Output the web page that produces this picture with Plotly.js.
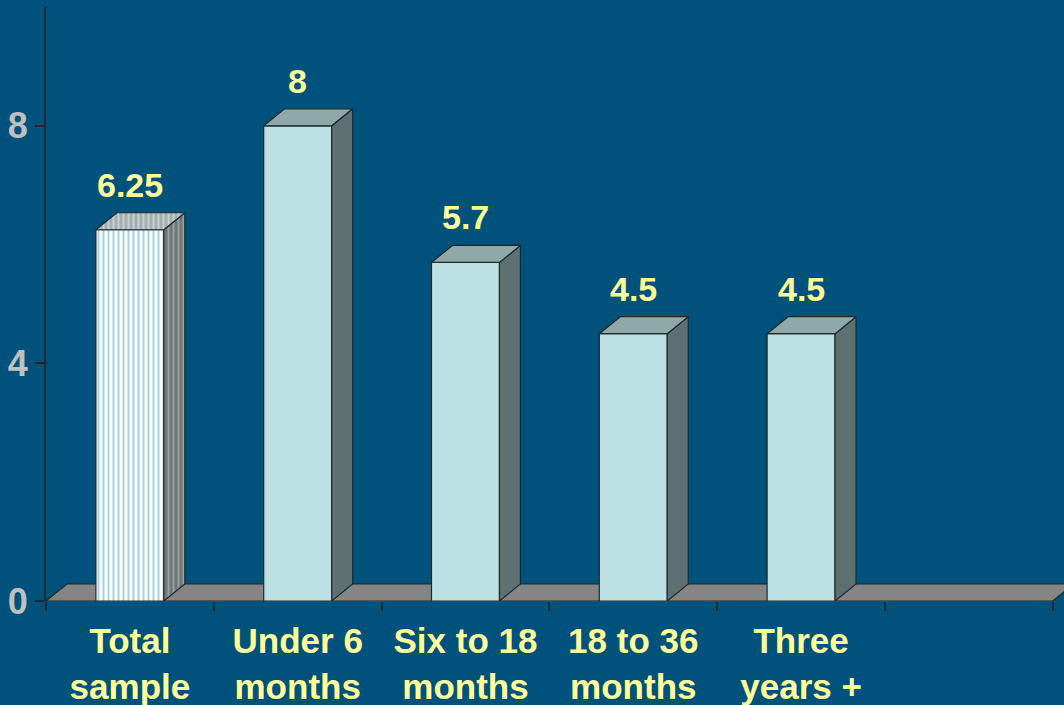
<!DOCTYPE html>
<html>
<head>
<meta charset="utf-8">
<script src="https://cdn.plot.ly/plotly-3.0.1.min.js"></script>
<style>
html,body{margin:0;padding:0;background:#00517b;}
#chart{width:1064px;height:705px;}
</style>
</head>
<body>
<div id="chart"></div>
<script>
// ---- data ----
var categories = ["Total<br>sample", "Under 6<br>months", "Six to 18<br>months", "18 to 36<br>months", "Three<br>years +", ""];
var values = [6.25, 8, 5.7, 4.5, 4.5];
var valueLabels = ["6.25", "8", "5.7", "4.5", "4.5"];
var yTicks = [0, 4, 8];

// ---- style ----
var BG = "#00517b";
var YELLOW = "#ffff99";
var OUTLINE = "#1c2a30";
var FRONT = "#bde0e4", SIDE = "#5e7070", TOP = "#8fa8a8";
var barW = 0.405;      // front face width, category units
var dX = 0.125;        // depth offset in x (category units)
var dY = 0.286;        // depth offset in y (value units)
var nCat = categories.length;

var idx = categories.map(function(_, i){ return i; });
var barIdx = values.map(function(_, i){ return i; });
var isStriped = values.map(function(_, i){ return i === 0; });

var traces = [];

// front faces: striped (total) bar
traces.push({
  type: "bar",
  x: barIdx.filter(function(i){ return isStriped[i]; }),
  y: values.filter(function(_, i){ return isStriped[i]; }),
  width: barW,
  marker: {
    color: "#ffffff",
    line: {color: OUTLINE, width: 1.2},
    pattern: {shape: "|", fgcolor: "#a6d4dc", bgcolor: "#ffffff", fgopacity: 1,
      size: 5, solidity: 0.4, fillmode: "replace"}
  },
  hoverinfo: "skip", showlegend: false
});
// front faces: plain bars
traces.push({
  type: "bar",
  x: barIdx.filter(function(i){ return !isStriped[i]; }),
  y: values.filter(function(_, i){ return !isStriped[i]; }),
  width: barW,
  marker: {color: FRONT, line: {color: OUTLINE, width: 1.2}},
  hoverinfo: "skip", showlegend: false
});

// side and top faces
values.forEach(function(v, i){
  var xr = i + barW / 2, xl = i - barW / 2;
  var striped = isStriped[i];
  var side = {
    type: "scatter", mode: "lines",
    x: [xr, xr + dX, xr + dX, xr, xr],
    y: [0, dY, v + dY, v, 0],
    fill: "toself",
    fillcolor: striped ? "#6e7676" : SIDE,
    line: {color: OUTLINE, width: 1.2},
    hoverinfo: "skip", showlegend: false
  };
  var top = {
    type: "scatter", mode: "lines",
    x: [xl, xr, xr + dX, xl + dX, xl],
    y: [v, v, v + dY, v + dY, v],
    fill: "toself",
    fillcolor: striped ? "#a4aeae" : TOP,
    line: {color: OUTLINE, width: 1.2},
    hoverinfo: "skip", showlegend: false
  };
  if (striped) {
    side.fillpattern = {shape: "|", fgcolor: "#9aa2a2", bgcolor: "#6e7676", fgopacity: 1, size: 5, solidity: 0.4, fillmode: "replace"};
    top.fillpattern = {shape: "|", fgcolor: "#c9d2d2", bgcolor: "#a4aeae", fgopacity: 1, size: 5, solidity: 0.4, fillmode: "replace"};
  }
  traces.push(side);
  traces.push(top);
});

// dummy trace to hold boundary-tick axis
traces.push({type: "scatter", mode: "markers", x: [0], y: [0], xaxis: "x2",
  marker: {opacity: 0}, hoverinfo: "skip", showlegend: false});

var xMin = -0.5, xMax = nCat - 0.5;
var xRange = [xMin, 5.567];

var annotations = values.map(function(v, i){
  return {
    x: i, y: v + dY, xref: "x", yref: "y",
    text: valueLabels[i], showarrow: false,
    yanchor: "bottom", yshift: 7,
    font: {family: "Liberation Sans, Arial, sans-serif", size: 34, color: YELLOW, weight: "bold"}
  };
});

var floorPath = "M " + xMin + "," + 0 + " L " + xMax + "," + 0 +
  " L " + (xMax + dX) + "," + dY + " L " + (xMin + dX) + "," + dY + " Z";

var layout = {
  width: 1064, height: 705,
  margin: {l: 46, r: 0, t: 7, b: 104, pad: 0},
  paper_bgcolor: BG, plot_bgcolor: BG,
  showlegend: false,
  barmode: "overlay",
  xaxis: {
    type: "linear", range: xRange,
    tickmode: "array", tickvals: idx, ticktext: categories,
    ticks: "", showgrid: false, zeroline: false, showline: false,
    tickfont: {family: "Liberation Sans, Arial, sans-serif", size: 35, color: YELLOW, weight: "bold"},
    ticklabelstandoff: 16,
    fixedrange: true
  },
  xaxis2: {
    type: "linear", overlaying: "x", anchor: "y", side: "bottom", range: xRange,
    tickmode: "array",
    tickvals: idx.concat([nCat]).map(function(i){ return i - 0.5; }),
    ticks: "outside", ticklen: 9, tickwidth: 2, tickcolor: OUTLINE,
    showticklabels: false, showgrid: false, zeroline: false, showline: false
  },
  yaxis: {
    range: [0, 10],
    tickmode: "array", tickvals: yTicks, ticktext: yTicks.map(String),
    ticks: "outside", ticklen: 9, tickwidth: 2, tickcolor: OUTLINE,
    showline: true, linecolor: OUTLINE, linewidth: 2,
    showgrid: false, zeroline: false,
    tickfont: {family: "Liberation Sans, Arial, sans-serif", size: 36, color: "#c0c0c0", weight: "bold"},
    ticklabelstandoff: 0,
    fixedrange: true
  },
  shapes: [{
    type: "path", xref: "x", yref: "y", layer: "below",
    path: floorPath,
    fillcolor: "#858585",
    line: {color: OUTLINE, width: 1.2}
  }],
  annotations: annotations
};

Plotly.newPlot("chart", traces, layout, {displayModeBar: false, staticPlot: true});
</script>
</body>
</html>
